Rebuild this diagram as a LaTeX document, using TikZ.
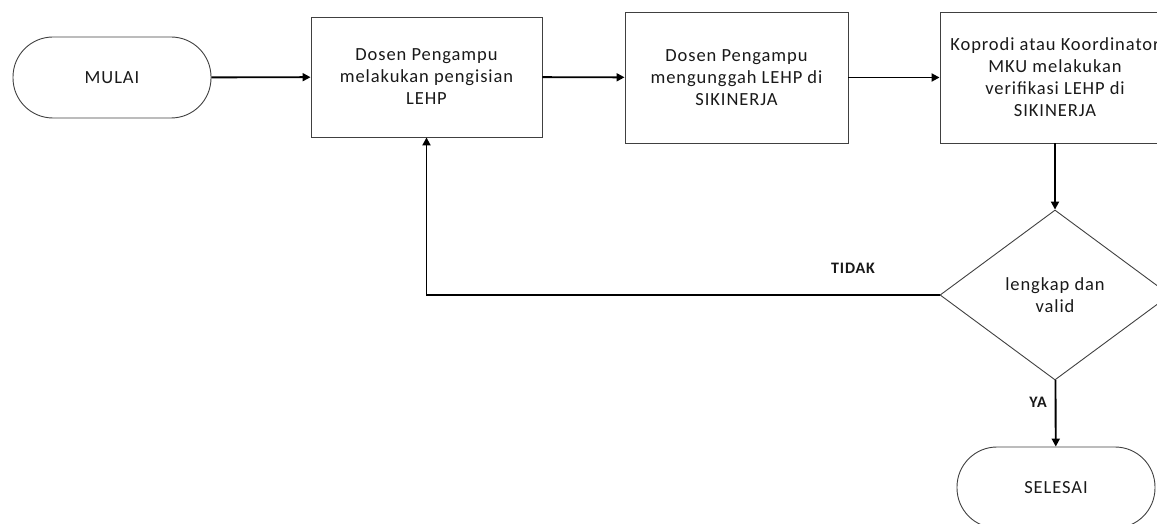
\documentclass[tikz,border=0pt]{standalone}
\usepackage{fontspec}
\setmainfont{Carlito}[LetterSpace=5]
\usetikzlibrary{shapes.geometric,arrows.meta}
\begin{document}
\begin{tikzpicture}[x=1pt,y=-1pt,
  box/.style={draw=black!75, line width=0.9pt, rectangle, align=center,
    font=\fontsize{18.5}{22}\selectfont, text=black!90, inner sep=0pt},
  term/.style={box, rounded corners=40pt, minimum width=198pt, minimum height=81pt},
  dec/.style={draw=black!75, line width=0.9pt, diamond, align=center,
    font=\fontsize{18.5}{22}\selectfont, text=black!90, inner sep=0pt,
    minimum width=230pt, minimum height=170pt},
  arr/.style={line width=1.9pt, -{Triangle[length=8pt,width=8pt]}},
  lab/.style={font=\bfseries\fontsize{16}{19}\selectfont, text=black!90}]
\useasboundingbox (0,0) rectangle (1157,524);
\node[term] (start) at (112,77.5) {MULAI};
\node[box, minimum width=231pt, minimum height=120pt] (b1) at (426.5,77) {Dosen Pengampu\\melakukan pengisian\\LEHP};
\node[box, minimum width=223pt, minimum height=131pt] (b2) at (736.5,77.5) {Dosen Pengampu\\mengunggah LEHP di\\SIKINERJA};
\node[box, minimum width=230pt, minimum height=131pt] (b3) at (1055,77.5) {Koprodi atau Koordinator\\MKU melakukan\\verifikasi LEHP di\\SIKINERJA};
\node[dec] (d) at (1055,295) {lengkap dan\\valid};
\node[term] (end) at (1056,487.5) {SELESAI};
\coordinate (c1) at (b1.south |- d.west);
\draw[arr] (start) -- (b1);
\draw[arr] (b1) -- (b2);
\draw[arr] (b2) -- (b3);
\draw[arr] (b3) -- (d);
\draw[arr] (d) -- (end);
\draw[arr] (d.west) -- (c1) -- (b1.south);
\node[lab] (tidak) at (853,268) {TIDAK};
\node[lab] (ya) at (1038,402) {YA};
\end{tikzpicture}
\end{document}
